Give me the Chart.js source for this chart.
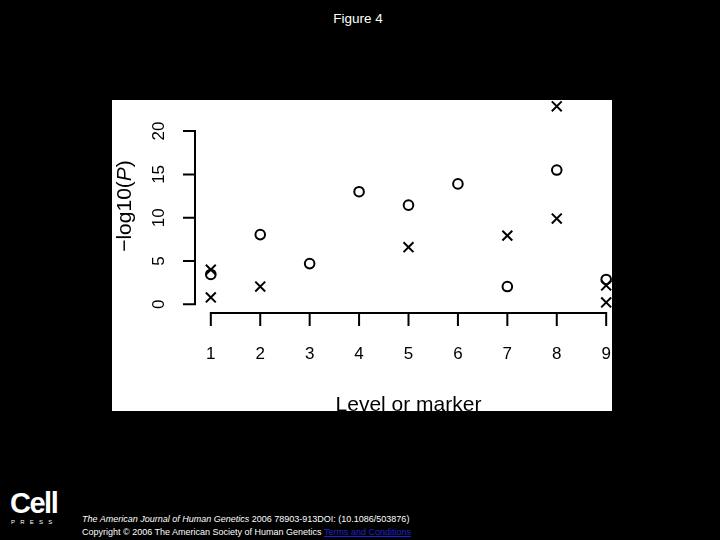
<!DOCTYPE html>
<html>
<head>
<meta charset="utf-8">
<script src="https://cdn.jsdelivr.net/npm/chart.js@4"></script>
<style>
  html, body { margin: 0; padding: 0; background: #000; width: 720px; height: 540px; overflow: hidden; font-family: "Liberation Sans", Arial, sans-serif; }
  #title { position: absolute; left: 0; width: 716px; top: 11px; text-align: center; color: #fff; font-size: 13.5px; }
  #panel { position: absolute; left: 112px; top: 100px; width: 500px; height: 311px; background: #fff; overflow: hidden; }
  #wrap { position: absolute; left: 0; top: -10px; width: 530px; height: 330px; }
  #logo { position: absolute; left: 10px; top: 488px; color: #fff; }
  #logo .big { font-weight: bold; font-size: 29px; letter-spacing: -1.5px; line-height: 30px; }
  #logo .small { font-size: 6px; letter-spacing: 5.2px; line-height: 8px; margin-left: 1px; }
  #cite { position: absolute; left: 82px; top: 513px; color: #fff; font-size: 9px; line-height: 13px; white-space: nowrap; }
  #cite a { color: #2020d0; text-decoration: underline; }
</style>
</head>
<body>
<div id="title">Figure 4</div>
<div id="panel"><div id="wrap"><canvas id="chart"></canvas></div></div>
<div id="logo"><div class="big">Cell</div><div class="small">PRESS</div></div>
<div id="cite">
  <div><i>The American Journal of Human Genetics</i> 2006 78903-913DOI: (10.1086/503876)</div>
  <div>Copyright © 2006 The American Society of Human Genetics <a>Terms and Conditions</a></div>
</div>
<script>
// tick labels
const xTicks = [1, 2, 3, 4, 5, 6, 7, 8, 9];
const yTicks = [0, 5, 10, 15, 20];

// circles
const circleX = [1, 2, 3, 4, 5, 6, 7, 8, 9];
const circleY = [3.45, 8.05, 4.7, 13.0, 11.45, 13.9, 2.05, 15.5, 2.87];

// crosses
const crossX = [1, 1, 2, 5, 7, 8, 8, 9, 9];
const crossY = [4.0, 0.8, 2.05, 6.6, 7.93, 9.9, 22.85, 2.18, 0.22];

const toPoints = (xs, ys) => xs.map((x, i) => ({ x: x, y: ys[i] }));

// R style axes drawn through the chart scales
const rAxes = {
    id: 'rAxes',
    afterDraw(chart) {
        const ctx = chart.ctx;
        const area = chart.chartArea;
        const xs = chart.scales.x;
        const ys = chart.scales.y;
        ctx.save();
        ctx.strokeStyle = '#000';
        ctx.fillStyle = '#000';
        ctx.lineWidth = 2;
        ctx.lineCap = 'butt';

        // y axis
        const yTop = ys.getPixelForValue(yTicks[yTicks.length - 1]);
        const yBot = ys.getPixelForValue(yTicks[0]);
        ctx.beginPath();
        ctx.moveTo(area.left, yTop);
        ctx.lineTo(area.left, yBot);
        yTicks.forEach(t => {
            const p = ys.getPixelForValue(t);
            ctx.moveTo(area.left - 12, p);
            ctx.lineTo(area.left + 1, p);
        });
        // x axis
        const xL = xs.getPixelForValue(xTicks[0]);
        const xR = xs.getPixelForValue(xTicks[xTicks.length - 1]);
        ctx.moveTo(xL, area.bottom);
        ctx.lineTo(xR, area.bottom);
        xTicks.forEach(t => {
            const p = xs.getPixelForValue(t);
            ctx.moveTo(p, area.bottom - 1);
            ctx.lineTo(p, area.bottom + 13);
        });
        ctx.stroke();

        // tick labels
        ctx.font = '17px "Liberation Sans", Arial, sans-serif';
        ctx.textAlign = 'center';
        ctx.textBaseline = 'middle';
        xTicks.forEach(t => {
            ctx.fillText(String(t), xs.getPixelForValue(t), area.bottom + 41);
        });
        yTicks.forEach(t => {
            ctx.save();
            ctx.translate(area.left - 36, ys.getPixelForValue(t));
            ctx.rotate(-Math.PI / 2);
            ctx.fillText(String(t), 0, 0);
            ctx.restore();
        });

        // axis titles
        ctx.font = '21px "Liberation Sans", Arial, sans-serif';
        ctx.fillText('Level or marker', (area.left + area.right) / 2, area.bottom + 92);

        ctx.save();
        ctx.translate(area.left - 70, (area.top + area.bottom) / 2);
        ctx.rotate(-Math.PI / 2);
        const parts = [
            { t: '\u2212log10(', f: '21px "Liberation Sans", Arial, sans-serif' },
            { t: 'P', f: 'italic 21px "Liberation Sans", Arial, sans-serif' },
            { t: ')', f: '21px "Liberation Sans", Arial, sans-serif' }
        ];
        let total = 0;
        parts.forEach(p => { ctx.font = p.f; total += ctx.measureText(p.t).width; });
        let cx = -total / 2;
        ctx.textAlign = 'left';
        parts.forEach(p => {
            ctx.font = p.f;
            ctx.fillText(p.t, cx, 0);
            cx += ctx.measureText(p.t).width;
        });
        ctx.restore();

        ctx.restore();
    }
};

const ctx = document.getElementById('chart').getContext('2d');

const chart = new Chart(ctx, {
    type: 'scatter',
    data: {
        datasets: [{
            label: 'Level',
            data: toPoints(circleX, circleY),
            pointStyle: 'circle',
            pointRadius: 4.8,
            borderWidth: 2,
            borderColor: '#000',
            backgroundColor: 'rgba(0,0,0,0)'
        }, {
            label: 'Marker',
            data: toPoints(crossX, crossY),
            pointStyle: 'crossRot',
            pointRadius: 7,
            borderWidth: 2,
            borderColor: '#000',
            backgroundColor: '#000'
        }]
    },
    options: {
        responsive: true,
        maintainAspectRatio: false,
        animation: false,
        events: [],
        layout: {
            padding: { left: 83, top: 8, right: 20, bottom: 107 }
        },
        plugins: {
            legend: { display: false },
            tooltip: { enabled: false }
        },
        scales: {
            x: { type: 'linear', min: 0.68, max: 9.32, display: false },
            y: { type: 'linear', min: -1.0, max: 23.7, display: false }
        }
    },
    plugins: [rAxes]
});
</script>
</body>
</html>
